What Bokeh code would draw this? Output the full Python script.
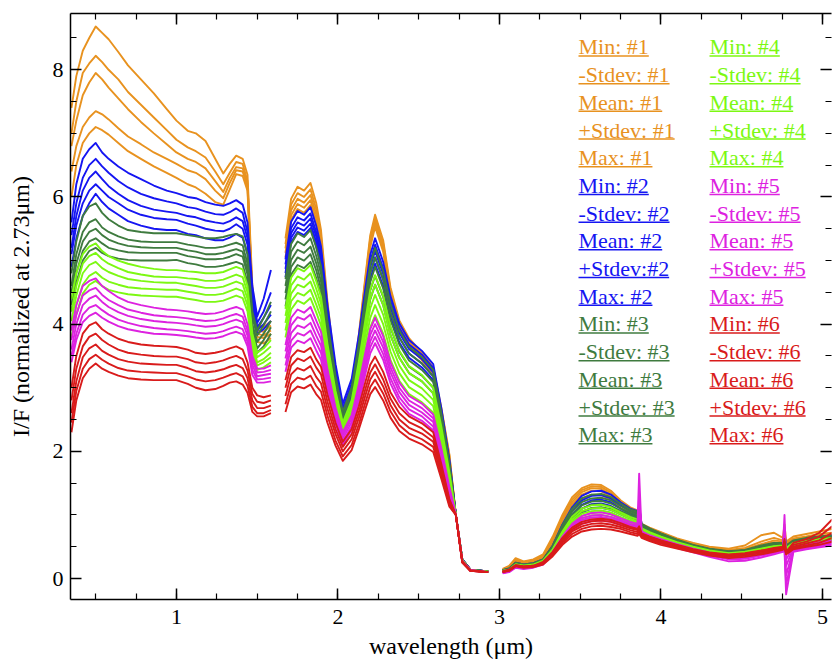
from bokeh.plotting import figure
from bokeh.models import Range1d, LinearAxis, SingleIntervalTicker, CustomLabelingPolicy
from bokeh.core.properties import value
from bokeh.embed import file_html
from bokeh.resources import INLINE

# ---------------- data ----------------
# wavelength grids (micron) for the three spectral segments
WA = [0.35, 0.38, 0.42, 0.46, 0.50, 0.54, 0.58, 0.64, 0.70, 0.78, 0.86, 0.94, 1.00,
      1.07, 1.12, 1.18, 1.24, 1.29, 1.33, 1.37, 1.41, 1.44, 1.47, 1.50, 1.54, 1.585]
WB = [1.675, 1.71, 1.75, 1.79, 1.83, 1.865, 1.895, 1.935, 1.985, 2.03, 2.085, 2.13, 2.17,
      2.20, 2.23, 2.28, 2.325, 2.38, 2.44, 2.52, 2.59, 2.64, 2.69, 2.73, 2.77, 2.82, 2.93]
WC = [3.02, 3.06, 3.10, 3.15, 3.21, 3.27, 3.33, 3.39, 3.45, 3.51, 3.57, 3.63, 3.69,
      3.75, 3.81, 3.855, 3.865, 3.88, 3.93, 4.0, 4.1, 4.2, 4.3, 4.42, 4.52, 4.62,
      4.70, 4.755, 4.765, 4.775, 4.82, 4.9, 4.98, 5.06]

SERIES = ["Min", "-Stdev", "Mean", "+Stdev", "Max"]
GROUP_COLORS = ["#E8921F", "#1515F2", "#3F7B3F", "#7CF812", "#DD22E0", "#D91B1B"]
LEGEND_TEXT = [
    ["Min: #1", "-Stdev: #1", "Mean: #1", "+Stdev: #1", "Max: #1"],
    ["Min: #2", "-Stdev: #2", "Mean: #2", "+Stdev:#2", "Max: #2"],
    ["Min: #3", "-Stdev: #3", "Mean: #3", "+Stdev: #3", "Max: #3"],
    ["Min: #4", "-Stdev: #4", "Mean: #4", "+Stdev: #4", "Max: #4"],
    ["Min: #5", "-Stdev: #5", "Mean: #5", "+Stdev: #5", "Max: #5"],
    ["Min: #6", "-Stdev: #6", "Mean: #6", "+Stdev: #6", "Max: #6"],
]

# ---- group 1 (orange) : Min, -Stdev, Mean, +Stdev, Max
G1_A = [
    [6.0, 6.5, 6.85, 7.0, 7.1, 7.05, 6.98, 6.85, 6.72, 6.6, 6.48, 6.38, 6.3, 6.2, 6.15, 6.05, 5.92, 5.88, 6.12, 6.36, 6.33, 6.1, 4.35, 3.72, 3.7, 3.78],
    [6.4, 6.8, 7.1, 7.25, 7.35, 7.3, 7.22, 7.08, 6.95, 6.83, 6.7, 6.6, 6.52, 6.42, 6.38, 6.28, 6.1, 5.98, 6.22, 6.42, 6.4, 6.15, 4.4, 3.8, 3.78, 3.85],
    [6.8, 7.2, 7.6, 7.8, 7.95, 7.85, 7.72, 7.55, 7.38, 7.18, 7.0, 6.83, 6.7, 6.6, 6.55, 6.45, 6.25, 6.08, 6.3, 6.47, 6.45, 6.2, 4.45, 3.85, 3.82, 3.9],
    [7.0, 7.5, 7.95, 8.1, 8.22, 8.12, 8.0, 7.85, 7.65, 7.45, 7.25, 7.05, 6.9, 6.78, 6.72, 6.62, 6.4, 6.2, 6.38, 6.55, 6.52, 6.25, 4.5, 3.9, 3.88, 3.98],
    [7.4, 7.9, 8.3, 8.5, 8.68, 8.58, 8.48, 8.28, 8.07, 7.85, 7.63, 7.38, 7.2, 7.04, 7.0, 6.88, 6.6, 6.37, 6.52, 6.65, 6.6, 6.35, 4.6, 3.98, 3.95, 4.05],
]
G1_B = [
    [5.05, 5.64, 5.81, 5.75, 5.87, 5.58, 5.17, 4.11, 3.05, 2.35, 2.83, 3.69, 4.58, 5.21, 5.53, 5.14, 4.42, 3.93, 3.65, 3.43, 3.21, 2.6, 1.86, 1.0, 0.28, 0.13, 0.1],
    [5.12, 5.71, 5.89, 5.83, 5.95, 5.65, 5.24, 4.18, 3.11, 2.40, 2.88, 3.74, 4.63, 5.26, 5.58, 5.19, 4.46, 3.96, 3.68, 3.46, 3.24, 2.62, 1.88, 1.0, 0.29, 0.14, 0.11],
    [5.19, 5.79, 5.97, 5.91, 6.03, 5.73, 5.31, 4.24, 3.16, 2.44, 2.92, 3.78, 4.67, 5.31, 5.63, 5.24, 4.5, 4.0, 3.72, 3.49, 3.27, 2.65, 1.9, 1.0, 0.29, 0.14, 0.11],
    [5.26, 5.88, 6.06, 6.0, 6.12, 5.81, 5.39, 4.3, 3.2, 2.47, 2.95, 3.81, 4.71, 5.35, 5.67, 5.27, 4.54, 4.03, 3.74, 3.52, 3.29, 2.66, 1.93, 1.0, 0.3, 0.14, 0.11],
    [5.35, 5.97, 6.16, 6.10, 6.22, 5.91, 5.48, 4.36, 3.24, 2.50, 2.98, 3.85, 4.75, 5.40, 5.72, 5.32, 4.58, 4.06, 3.78, 3.55, 3.32, 2.69, 1.95, 1.0, 0.3, 0.14, 0.11],
]
G1_C = [
    [0.13, 0.16, 0.27, 0.23, 0.26, 0.32, 0.54, 0.86, 1.1, 1.26, 1.32, 1.31, 1.24, 1.11, 1.03, 0.99, 1.0, 0.82, 0.76, 0.69, 0.59, 0.52, 0.46, 0.42, 0.44, 0.5, 0.55, 0.54, 0.62, 0.53, 0.58, 0.6, 0.63, 0.65],
    [0.13, 0.17, 0.28, 0.24, 0.27, 0.34, 0.57, 0.9, 1.16, 1.32, 1.38, 1.37, 1.29, 1.15, 1.06, 1.01, 1.02, 0.83, 0.77, 0.7, 0.6, 0.53, 0.47, 0.43, 0.45, 0.52, 0.57, 0.56, 0.66, 0.54, 0.6, 0.62, 0.65, 0.67],
    [0.14, 0.18, 0.29, 0.25, 0.28, 0.35, 0.6, 0.93, 1.2, 1.36, 1.42, 1.41, 1.32, 1.18, 1.08, 1.03, 1.0, 0.84, 0.78, 0.71, 0.61, 0.54, 0.48, 0.44, 0.46, 0.54, 0.6, 0.58, 0.7, 0.55, 0.61, 0.64, 0.67, 0.69],
    [0.14, 0.19, 0.3, 0.26, 0.29, 0.36, 0.62, 0.96, 1.24, 1.39, 1.45, 1.44, 1.35, 1.2, 1.1, 1.05, 0.98, 0.85, 0.79, 0.72, 0.62, 0.55, 0.49, 0.45, 0.48, 0.58, 0.64, 0.6, 0.75, 0.56, 0.63, 0.66, 0.7, 0.72],
    [0.15, 0.2, 0.32, 0.27, 0.3, 0.38, 0.66, 1.0, 1.28, 1.42, 1.48, 1.47, 1.38, 1.23, 1.12, 1.07, 0.95, 0.86, 0.8, 0.73, 0.63, 0.56, 0.5, 0.47, 0.52, 0.68, 0.72, 0.64, 0.85, 0.58, 0.66, 0.7, 0.74, 0.78],
]

# ---- group 2 (blue)
G2_A = [
    [4.9, 5.35, 5.7, 5.9, 6.05, 5.92, 5.82, 5.72, 5.62, 5.55, 5.5, 5.48, 5.48, 5.42, 5.4, 5.35, 5.32, 5.32, 5.36, 5.42, 5.36, 5.1, 4.2, 3.85, 3.92, 4.05],
    [5.1, 5.55, 5.9, 6.1, 6.2, 6.1, 6.0, 5.9, 5.8, 5.72, 5.67, 5.65, 5.64, 5.58, 5.55, 5.5, 5.47, 5.46, 5.5, 5.57, 5.5, 5.25, 4.3, 3.9, 4.0, 4.15],
    [5.2, 5.7, 6.1, 6.3, 6.4, 6.28, 6.17, 6.05, 5.95, 5.86, 5.8, 5.77, 5.75, 5.7, 5.68, 5.63, 5.6, 5.58, 5.62, 5.68, 5.62, 5.35, 4.4, 3.95, 4.1, 4.3],
    [5.4, 5.9, 6.3, 6.5, 6.6, 6.48, 6.38, 6.25, 6.15, 6.05, 5.98, 5.93, 5.9, 5.84, 5.82, 5.77, 5.73, 5.72, 5.76, 5.82, 5.75, 5.45, 4.5, 4.02, 4.2, 4.5],
    [5.6, 6.2, 6.6, 6.75, 6.85, 6.7, 6.6, 6.48, 6.38, 6.28, 6.18, 6.1, 6.06, 6.0, 5.98, 5.92, 5.88, 5.86, 5.9, 5.95, 5.88, 5.6, 4.6, 4.12, 4.4, 4.85],
]
G2_B = [
    [4.74, 5.29, 5.45, 5.4, 5.51, 5.23, 4.91, 4.02, 3.12, 2.52, 2.88, 3.54, 4.22, 4.71, 4.95, 4.6, 4.11, 3.71, 3.47, 3.32, 3.12, 2.48, 1.73, 1.0, 0.29, 0.13, 0.1],
    [4.8, 5.36, 5.52, 5.47, 5.58, 5.3, 4.98, 4.07, 3.17, 2.57, 2.94, 3.61, 4.31, 4.8, 5.05, 4.7, 4.19, 3.79, 3.54, 3.38, 3.18, 2.53, 1.77, 1.0, 0.29, 0.14, 0.11],
    [4.87, 5.43, 5.6, 5.55, 5.66, 5.38, 5.05, 4.14, 3.23, 2.62, 3.0, 3.68, 4.39, 4.9, 5.15, 4.79, 4.27, 3.86, 3.61, 3.45, 3.24, 2.58, 1.8, 1.0, 0.3, 0.14, 0.11],
    [4.94, 5.51, 5.68, 5.63, 5.74, 5.45, 5.13, 4.21, 3.29, 2.68, 3.07, 3.76, 4.48, 4.99, 5.25, 4.88, 4.36, 3.94, 3.68, 3.52, 3.31, 2.63, 1.84, 1.0, 0.3, 0.14, 0.11],
    [5.02, 5.61, 5.78, 5.72, 5.84, 5.55, 5.22, 4.30, 3.37, 2.75, 3.14, 3.84, 4.57, 5.09, 5.35, 4.98, 4.44, 4.01, 3.75, 3.58, 3.37, 2.68, 1.87, 1.0, 0.3, 0.14, 0.11],
]
G2_C = [
    [0.11, 0.14, 0.21, 0.19, 0.2, 0.26, 0.44, 0.68, 0.9, 1.04, 1.1, 1.11, 1.08, 1.01, 0.94, 0.91, 0.95, 0.77, 0.71, 0.64, 0.55, 0.48, 0.42, 0.38, 0.4, 0.45, 0.5, 0.51, 0.58, 0.46, 0.54, 0.57, 0.6, 0.62],
    [0.11, 0.14, 0.22, 0.2, 0.21, 0.27, 0.46, 0.72, 0.95, 1.1, 1.17, 1.18, 1.14, 1.06, 0.98, 0.95, 1.0, 0.79, 0.73, 0.66, 0.57, 0.49, 0.43, 0.39, 0.41, 0.46, 0.51, 0.52, 0.6, 0.47, 0.55, 0.58, 0.61, 0.63],
    [0.12, 0.15, 0.23, 0.21, 0.22, 0.28, 0.48, 0.76, 1.0, 1.16, 1.23, 1.24, 1.2, 1.1, 1.02, 0.98, 1.05, 0.81, 0.74, 0.67, 0.58, 0.5, 0.44, 0.4, 0.42, 0.47, 0.52, 0.53, 0.62, 0.48, 0.56, 0.59, 0.62, 0.64],
    [0.12, 0.15, 0.24, 0.21, 0.23, 0.29, 0.5, 0.8, 1.06, 1.23, 1.3, 1.31, 1.26, 1.15, 1.06, 1.02, 1.1, 0.83, 0.76, 0.68, 0.59, 0.51, 0.45, 0.41, 0.43, 0.48, 0.53, 0.54, 0.66, 0.49, 0.57, 0.6, 0.63, 0.66],
    [0.13, 0.16, 0.25, 0.22, 0.24, 0.3, 0.52, 0.85, 1.12, 1.3, 1.37, 1.38, 1.32, 1.2, 1.1, 1.06, 1.15, 0.85, 0.78, 0.7, 0.6, 0.52, 0.46, 0.42, 0.44, 0.5, 0.55, 0.55, 0.7, 0.5, 0.58, 0.62, 0.65, 0.68],
]

# ---- group 3 (dark green)
G3_A = [
    [4.2, 4.65, 5.0, 5.15, 5.2, 5.12, 5.07, 5.03, 5.01, 5.0, 5.0, 5.0, 5.01, 4.96, 4.94, 4.9, 4.9, 4.92, 4.95, 4.98, 4.94, 4.65, 3.85, 3.55, 3.65, 3.85],
    [4.3, 4.8, 5.15, 5.3, 5.35, 5.27, 5.2, 5.16, 5.13, 5.12, 5.12, 5.12, 5.12, 5.07, 5.05, 5.02, 5.02, 5.03, 5.06, 5.1, 5.06, 4.78, 3.95, 3.62, 3.75, 3.95],
    [4.5, 4.95, 5.3, 5.45, 5.5, 5.4, 5.33, 5.27, 5.23, 5.21, 5.2, 5.2, 5.2, 5.16, 5.14, 5.1, 5.1, 5.12, 5.15, 5.18, 5.14, 4.85, 4.0, 3.72, 3.85, 4.05],
    [4.6, 5.1, 5.45, 5.6, 5.65, 5.52, 5.45, 5.38, 5.33, 5.3, 5.29, 5.29, 5.29, 5.25, 5.23, 5.2, 5.2, 5.22, 5.25, 5.28, 5.24, 4.95, 4.1, 3.82, 3.98, 4.2],
    [4.8, 5.3, 5.7, 5.85, 5.9, 5.75, 5.65, 5.55, 5.48, 5.45, 5.43, 5.43, 5.43, 5.4, 5.38, 5.35, 5.35, 5.37, 5.4, 5.42, 5.38, 5.1, 4.2, 3.9, 4.1, 4.35],
]
G3_B = [
    [4.28, 4.78, 4.93, 4.88, 4.98, 4.73, 4.46, 3.67, 2.88, 2.36, 2.7, 3.31, 3.94, 4.39, 4.62, 4.3, 3.83, 3.47, 3.23, 3.1, 2.91, 2.31, 1.62, 1.0, 0.28, 0.13, 0.1],
    [4.39, 4.9, 5.05, 5.0, 5.1, 4.85, 4.56, 3.76, 2.96, 2.42, 2.77, 3.4, 4.06, 4.53, 4.76, 4.43, 3.95, 3.57, 3.33, 3.19, 3.0, 2.38, 1.67, 1.0, 0.28, 0.13, 0.1],
    [4.49, 5.01, 5.17, 5.12, 5.22, 4.96, 4.67, 3.85, 3.03, 2.48, 2.84, 3.5, 4.17, 4.66, 4.9, 4.56, 4.07, 3.68, 3.43, 3.28, 3.09, 2.45, 1.72, 1.0, 0.29, 0.13, 0.11],
    [4.6, 5.14, 5.3, 5.24, 5.35, 5.08, 4.79, 3.95, 3.11, 2.55, 2.93, 3.6, 4.3, 4.8, 5.05, 4.7, 4.19, 3.79, 3.54, 3.38, 3.18, 2.53, 1.77, 1.0, 0.29, 0.14, 0.11],
    [4.71, 5.26, 5.43, 5.37, 5.48, 5.21, 4.91, 4.05, 3.19, 2.62, 3.01, 3.70, 4.43, 4.94, 5.2, 4.84, 4.32, 3.9, 3.64, 3.48, 3.28, 2.6, 1.82, 1.0, 0.3, 0.14, 0.11],
]
G3_C = [
    [0.11, 0.14, 0.21, 0.19, 0.2, 0.26, 0.44, 0.7, 0.92, 1.05, 1.11, 1.12, 1.09, 1.02, 0.96, 0.93, 0.97, 0.78, 0.72, 0.65, 0.56, 0.49, 0.43, 0.39, 0.41, 0.47, 0.51, 0.52, 0.58, 0.48, 0.56, 0.58, 0.6, 0.61],
    [0.11, 0.14, 0.22, 0.2, 0.21, 0.27, 0.46, 0.74, 0.96, 1.1, 1.16, 1.17, 1.13, 1.06, 1.0, 0.96, 1.0, 0.8, 0.74, 0.67, 0.58, 0.5, 0.44, 0.4, 0.42, 0.48, 0.52, 0.53, 0.6, 0.49, 0.57, 0.6, 0.62, 0.63],
    [0.12, 0.15, 0.23, 0.21, 0.22, 0.28, 0.48, 0.77, 1.0, 1.15, 1.21, 1.22, 1.18, 1.1, 1.03, 0.99, 1.04, 0.82, 0.76, 0.69, 0.59, 0.51, 0.45, 0.41, 0.43, 0.49, 0.53, 0.54, 0.62, 0.5, 0.58, 0.61, 0.63, 0.65],
    [0.12, 0.15, 0.24, 0.21, 0.23, 0.29, 0.5, 0.8, 1.05, 1.2, 1.26, 1.27, 1.23, 1.14, 1.06, 1.02, 1.08, 0.84, 0.77, 0.7, 0.6, 0.52, 0.46, 0.42, 0.44, 0.5, 0.54, 0.55, 0.66, 0.51, 0.59, 0.62, 0.64, 0.66],
    [0.13, 0.16, 0.25, 0.22, 0.24, 0.3, 0.52, 0.84, 1.1, 1.26, 1.32, 1.33, 1.28, 1.18, 1.09, 1.05, 1.12, 0.86, 0.79, 0.71, 0.61, 0.53, 0.47, 0.43, 0.45, 0.52, 0.56, 0.56, 0.72, 0.52, 0.6, 0.64, 0.66, 0.68],
]

# ---- group 4 (lime)
G4_A = [
    [3.8, 4.15, 4.48, 4.62, 4.68, 4.6, 4.54, 4.5, 4.47, 4.45, 4.44, 4.43, 4.43, 4.4, 4.38, 4.35, 4.35, 4.37, 4.41, 4.45, 4.41, 4.2, 3.55, 3.28, 3.32, 3.4],
    [3.9, 4.3, 4.62, 4.76, 4.82, 4.73, 4.67, 4.62, 4.58, 4.56, 4.55, 4.54, 4.54, 4.51, 4.49, 4.46, 4.46, 4.48, 4.52, 4.56, 4.52, 4.3, 3.62, 3.35, 3.4, 3.48],
    [4.05, 4.45, 4.8, 4.93, 4.98, 4.88, 4.82, 4.76, 4.71, 4.68, 4.66, 4.65, 4.65, 4.62, 4.6, 4.57, 4.57, 4.59, 4.63, 4.67, 4.63, 4.4, 3.7, 3.4, 3.45, 3.55],
    [4.2, 4.6, 4.95, 5.07, 5.12, 5.02, 4.95, 4.88, 4.82, 4.78, 4.75, 4.74, 4.74, 4.72, 4.71, 4.68, 4.68, 4.7, 4.74, 4.78, 4.74, 4.5, 3.78, 3.48, 3.55, 3.65],
    [4.4, 4.8, 5.1, 5.22, 5.27, 5.15, 5.07, 5.0, 4.95, 4.9, 4.87, 4.85, 4.85, 4.83, 4.82, 4.8, 4.8, 4.82, 4.86, 4.9, 4.86, 4.6, 3.85, 3.55, 3.62, 3.75],
]
G4_B = [
    [3.79, 4.23, 4.37, 4.32, 4.41, 4.19, 3.98, 3.34, 2.7, 2.27, 2.55, 3.06, 3.58, 3.95, 4.14, 3.85, 3.44, 3.11, 2.9, 2.77, 2.61, 2.07, 1.45, 1.0, 0.27, 0.13, 0.1],
    [3.9, 4.36, 4.49, 4.45, 4.54, 4.31, 4.1, 3.43, 2.76, 2.32, 2.62, 3.15, 3.71, 4.1, 4.3, 4.0, 3.57, 3.23, 3.01, 2.88, 2.71, 2.15, 1.51, 1.0, 0.28, 0.13, 0.1],
    [4.02, 4.48, 4.62, 4.58, 4.67, 4.44, 4.21, 3.52, 2.83, 2.37, 2.68, 3.25, 3.83, 4.25, 4.46, 4.15, 3.7, 3.35, 3.12, 2.99, 2.81, 2.23, 1.56, 1.0, 0.28, 0.13, 0.1],
    [4.13, 4.61, 4.75, 4.7, 4.8, 4.56, 4.32, 3.61, 2.89, 2.41, 2.74, 3.34, 3.96, 4.4, 4.62, 4.3, 3.83, 3.47, 3.23, 3.1, 2.91, 2.31, 1.62, 1.0, 0.28, 0.13, 0.1],
    [4.24, 4.73, 4.88, 4.83, 4.93, 4.68, 4.43, 3.69, 2.95, 2.45, 2.8, 3.42, 4.07, 4.54, 4.77, 4.44, 3.96, 3.58, 3.34, 3.2, 3.0, 2.39, 1.67, 1.0, 0.29, 0.13, 0.11],
]
G4_C = [
    [0.1, 0.12, 0.2, 0.18, 0.2, 0.25, 0.42, 0.65, 0.84, 0.95, 0.99, 1.0, 0.97, 0.91, 0.85, 0.82, 0.86, 0.71, 0.66, 0.6, 0.52, 0.46, 0.4, 0.36, 0.38, 0.43, 0.47, 0.48, 0.52, 0.44, 0.52, 0.55, 0.58, 0.6],
    [0.11, 0.13, 0.21, 0.19, 0.2, 0.25, 0.43, 0.67, 0.87, 0.99, 1.03, 1.04, 1.01, 0.94, 0.88, 0.85, 0.89, 0.73, 0.68, 0.62, 0.54, 0.47, 0.41, 0.37, 0.39, 0.44, 0.48, 0.49, 0.54, 0.45, 0.53, 0.56, 0.59, 0.61],
    [0.11, 0.13, 0.21, 0.19, 0.21, 0.26, 0.44, 0.69, 0.9, 1.02, 1.06, 1.07, 1.04, 0.97, 0.91, 0.88, 0.92, 0.75, 0.7, 0.64, 0.55, 0.48, 0.42, 0.38, 0.4, 0.45, 0.49, 0.5, 0.56, 0.46, 0.54, 0.57, 0.6, 0.62],
    [0.12, 0.14, 0.22, 0.2, 0.21, 0.27, 0.45, 0.71, 0.93, 1.06, 1.1, 1.11, 1.08, 1.01, 0.94, 0.9, 0.95, 0.77, 0.71, 0.65, 0.56, 0.49, 0.43, 0.39, 0.41, 0.46, 0.5, 0.51, 0.58, 0.47, 0.55, 0.58, 0.61, 0.63],
    [0.12, 0.14, 0.22, 0.2, 0.22, 0.28, 0.46, 0.74, 0.97, 1.1, 1.15, 1.16, 1.12, 1.04, 0.97, 0.93, 0.98, 0.79, 0.73, 0.66, 0.57, 0.5, 0.44, 0.4, 0.42, 0.47, 0.51, 0.52, 0.6, 0.48, 0.56, 0.59, 0.62, 0.64],
]

# ---- group 5 (magenta)
G5_A = [
    [3.4, 3.75, 4.03, 4.13, 4.18, 4.1, 4.04, 3.97, 3.92, 3.88, 3.85, 3.84, 3.83, 3.81, 3.79, 3.77, 3.78, 3.81, 3.85, 3.88, 3.84, 3.65, 3.2, 3.08, 3.08, 3.1],
    [3.5, 3.85, 4.15, 4.26, 4.3, 4.22, 4.15, 4.07, 4.02, 3.97, 3.94, 3.92, 3.91, 3.89, 3.87, 3.85, 3.86, 3.89, 3.93, 3.96, 3.92, 3.72, 3.28, 3.13, 3.14, 3.16],
    [3.6, 4.0, 4.3, 4.4, 4.45, 4.35, 4.27, 4.19, 4.13, 4.08, 4.05, 4.03, 4.02, 4.0, 3.98, 3.96, 3.97, 4.0, 4.04, 4.07, 4.03, 3.82, 3.36, 3.18, 3.2, 3.22],
    [3.75, 4.15, 4.45, 4.53, 4.57, 4.46, 4.38, 4.3, 4.23, 4.18, 4.14, 4.12, 4.11, 4.09, 4.07, 4.05, 4.06, 4.09, 4.13, 4.16, 4.12, 3.9, 3.43, 3.24, 3.25, 3.28],
    [3.9, 4.3, 4.6, 4.68, 4.72, 4.6, 4.52, 4.42, 4.35, 4.3, 4.26, 4.23, 4.22, 4.2, 4.18, 4.16, 4.17, 4.2, 4.24, 4.27, 4.23, 4.0, 3.5, 3.3, 3.3, 3.35],
]
G5_B = [
    [3.25, 3.63, 3.74, 3.7, 3.78, 3.59, 3.44, 2.94, 2.44, 2.1, 2.34, 2.77, 3.22, 3.54, 3.7, 3.44, 3.07, 2.78, 2.59, 2.48, 2.33, 1.85, 1.3, 1.0, 0.26, 0.12, 0.1],
    [3.35, 3.74, 3.86, 3.82, 3.9, 3.71, 3.55, 3.03, 2.5, 2.15, 2.4, 2.84, 3.31, 3.64, 3.8, 3.53, 3.15, 2.85, 2.66, 2.55, 2.39, 1.9, 1.33, 1.0, 0.27, 0.13, 0.1],
    [3.46, 3.86, 3.98, 3.94, 4.02, 3.82, 3.66, 3.11, 2.56, 2.2, 2.46, 2.91, 3.39, 3.73, 3.9, 3.63, 3.24, 2.93, 2.73, 2.61, 2.46, 1.95, 1.37, 1.0, 0.27, 0.13, 0.1],
    [3.57, 3.98, 4.11, 4.07, 4.15, 3.94, 3.77, 3.2, 2.63, 2.25, 2.51, 2.99, 3.48, 3.83, 4.0, 3.72, 3.32, 3.0, 2.8, 2.68, 2.52, 2.0, 1.4, 1.0, 0.27, 0.13, 0.1],
    [3.67, 4.1, 4.23, 4.18, 4.27, 4.06, 3.88, 3.29, 2.69, 2.3, 2.57, 3.06, 3.56, 3.92, 4.1, 3.81, 3.4, 3.08, 2.87, 2.75, 2.58, 2.05, 1.44, 1.0, 0.28, 0.13, 0.1],
]
G5_C = [
    [0.08, 0.1, 0.17, 0.15, 0.17, 0.22, 0.38, 0.58, 0.75, 0.86, 0.9, 0.91, 0.89, 0.85, 0.8, 0.77, 0.85, 0.67, 0.62, 0.56, 0.48, 0.41, 0.34, 0.27, 0.28, 0.33, 0.38, 0.42, 0.45, -0.25, 0.42, 0.46, 0.49, 0.52],
    [0.09, 0.11, 0.18, 0.16, 0.18, 0.23, 0.39, 0.6, 0.78, 0.89, 0.93, 0.94, 0.92, 0.87, 0.82, 0.79, 0.95, 0.69, 0.64, 0.58, 0.5, 0.43, 0.36, 0.3, 0.31, 0.36, 0.4, 0.43, 0.5, -0.1, 0.44, 0.48, 0.51, 0.54],
    [0.09, 0.11, 0.18, 0.16, 0.18, 0.24, 0.4, 0.62, 0.81, 0.92, 0.96, 0.97, 0.94, 0.89, 0.84, 0.81, 1.1, 0.7, 0.65, 0.59, 0.51, 0.44, 0.38, 0.32, 0.33, 0.38, 0.42, 0.44, 0.6, 0.05, 0.46, 0.5, 0.53, 0.56],
    [0.1, 0.12, 0.19, 0.17, 0.19, 0.24, 0.41, 0.64, 0.83, 0.95, 0.99, 1.0, 0.97, 0.92, 0.86, 0.83, 1.3, 0.72, 0.66, 0.6, 0.52, 0.45, 0.39, 0.34, 0.35, 0.4, 0.44, 0.45, 0.8, 0.2, 0.48, 0.52, 0.55, 0.58],
    [0.1, 0.12, 0.19, 0.17, 0.19, 0.25, 0.42, 0.66, 0.86, 0.98, 1.03, 1.04, 1.01, 0.95, 0.89, 0.86, 1.65, 0.74, 0.68, 0.62, 0.54, 0.47, 0.41, 0.36, 0.37, 0.42, 0.46, 0.47, 1.0, 0.3, 0.5, 0.54, 0.57, 0.6],
]

# ---- group 6 (red)
G6_A = [
    [2.3, 2.8, 3.15, 3.3, 3.38, 3.3, 3.25, 3.19, 3.15, 3.13, 3.12, 3.12, 3.12, 3.06, 3.0, 2.96, 2.98, 3.03, 3.08, 3.1, 3.05, 2.92, 2.62, 2.55, 2.55, 2.6],
    [2.45, 2.95, 3.3, 3.45, 3.52, 3.44, 3.38, 3.31, 3.27, 3.25, 3.24, 3.23, 3.23, 3.18, 3.13, 3.1, 3.12, 3.16, 3.2, 3.23, 3.18, 3.03, 2.7, 2.6, 2.6, 2.65],
    [2.6, 3.1, 3.48, 3.62, 3.68, 3.58, 3.52, 3.45, 3.41, 3.38, 3.37, 3.36, 3.36, 3.31, 3.26, 3.24, 3.26, 3.29, 3.33, 3.36, 3.31, 3.15, 2.8, 2.68, 2.68, 2.72],
    [2.8, 3.3, 3.65, 3.8, 3.85, 3.75, 3.68, 3.6, 3.55, 3.52, 3.5, 3.49, 3.49, 3.45, 3.4, 3.38, 3.4, 3.43, 3.47, 3.5, 3.45, 3.27, 2.9, 2.78, 2.76, 2.8],
    [3.0, 3.5, 3.85, 3.98, 4.03, 3.92, 3.85, 3.77, 3.72, 3.68, 3.66, 3.65, 3.64, 3.6, 3.55, 3.53, 3.55, 3.58, 3.62, 3.65, 3.6, 3.4, 3.0, 2.88, 2.85, 2.88],
]
G6_B = [
    [2.62, 2.93, 3.02, 2.99, 3.05, 2.9, 2.81, 2.45, 2.09, 1.85, 2.02, 2.35, 2.67, 2.9, 3.01, 2.8, 2.53, 2.32, 2.2, 2.11, 1.99, 1.57, 1.13, 1.0, 0.25, 0.12, 0.1],
    [2.74, 3.06, 3.16, 3.13, 3.19, 3.03, 2.94, 2.56, 2.17, 1.92, 2.1, 2.43, 2.77, 3.01, 3.13, 2.91, 2.63, 2.41, 2.28, 2.19, 2.07, 1.63, 1.16, 1.0, 0.25, 0.12, 0.1],
    [2.87, 3.21, 3.31, 3.27, 3.34, 3.17, 3.07, 2.67, 2.27, 2.0, 2.19, 2.53, 2.88, 3.13, 3.25, 3.02, 2.73, 2.5, 2.37, 2.28, 2.15, 1.69, 1.19, 1.0, 0.26, 0.12, 0.1],
    [3.0, 3.35, 3.46, 3.42, 3.49, 3.32, 3.21, 2.78, 2.35, 2.07, 2.27, 2.62, 2.98, 3.24, 3.37, 3.13, 2.83, 2.6, 2.46, 2.36, 2.22, 1.74, 1.22, 1.0, 0.26, 0.12, 0.1],
    [3.12, 3.48, 3.59, 3.56, 3.63, 3.45, 3.33, 2.89, 2.45, 2.15, 2.35, 2.71, 3.09, 3.36, 3.49, 3.25, 2.93, 2.7, 2.55, 2.44, 2.3, 1.8, 1.25, 1.0, 0.27, 0.13, 0.1],
]
G6_C = [
    [0.1, 0.12, 0.19, 0.17, 0.18, 0.22, 0.35, 0.53, 0.66, 0.74, 0.77, 0.78, 0.77, 0.74, 0.7, 0.67, 0.7, 0.64, 0.59, 0.53, 0.47, 0.41, 0.36, 0.32, 0.34, 0.38, 0.42, 0.45, 0.5, 0.38, 0.46, 0.5, 0.53, 0.58],
    [0.1, 0.13, 0.2, 0.18, 0.19, 0.23, 0.37, 0.56, 0.7, 0.78, 0.82, 0.83, 0.81, 0.78, 0.73, 0.7, 0.73, 0.66, 0.61, 0.55, 0.49, 0.43, 0.38, 0.34, 0.36, 0.4, 0.44, 0.47, 0.52, 0.39, 0.48, 0.52, 0.56, 0.64],
    [0.1, 0.13, 0.2, 0.18, 0.19, 0.24, 0.39, 0.59, 0.74, 0.82, 0.86, 0.87, 0.85, 0.81, 0.76, 0.73, 0.76, 0.68, 0.63, 0.57, 0.5, 0.44, 0.39, 0.36, 0.38, 0.42, 0.46, 0.48, 0.55, 0.4, 0.5, 0.55, 0.6, 0.72],
    [0.11, 0.14, 0.21, 0.19, 0.2, 0.25, 0.41, 0.62, 0.77, 0.86, 0.9, 0.91, 0.89, 0.84, 0.79, 0.76, 0.79, 0.7, 0.65, 0.59, 0.52, 0.45, 0.4, 0.37, 0.39, 0.43, 0.47, 0.49, 0.58, 0.41, 0.53, 0.58, 0.66, 0.82],
    [0.11, 0.14, 0.21, 0.19, 0.2, 0.26, 0.42, 0.64, 0.8, 0.89, 0.93, 0.94, 0.92, 0.87, 0.81, 0.78, 0.82, 0.71, 0.66, 0.6, 0.53, 0.46, 0.41, 0.38, 0.4, 0.44, 0.48, 0.5, 0.62, 0.42, 0.56, 0.62, 0.72, 0.93],
]

GROUPS = [(G1_A, G1_B, G1_C), (G2_A, G2_B, G2_C), (G3_A, G3_B, G3_C),
          (G4_A, G4_B, G4_C), (G5_A, G5_B, G5_C), (G6_A, G6_B, G6_C)]

# ---------------- figure ----------------
X0, X1 = 0.344, 5.056
Y0, Y1 = -0.33, 8.885
FONT = "Liberation Serif"

p = figure(width=832, height=661, x_range=Range1d(X0, X1), y_range=Range1d(Y0, Y1),
           output_backend="svg", toolbar_location=None,
           min_border_left=70, min_border_right=1, min_border_top=13, min_border_bottom=61)
p.background_fill_color = "white"
p.border_fill_color = "white"
p.xgrid.visible = False
p.ygrid.visible = False
p.outline_line_color = None

for gi, (sa, sb, sc) in enumerate(GROUPS):
    xs, ys = [], []
    for k in range(5):
        for grid, seg in ((WA, sa[k]), (WB, sb[k]), (WC, sc[k])):
            if len(grid) != len(seg):
                raise ValueError(f"group {gi+1} curve {k} length {len(seg)} vs {len(grid)}")
            xs.append(grid)
            ys.append(seg)
    p.multi_line(xs=xs, ys=ys, line_color=GROUP_COLORS[gi], line_width=1.9, line_join="round")

NO_LABELS = "for (const i of indices) { indices.unset(i) }\nreturn indices"


def style_axis(ax, show_labels, show_line=True):
    ax.axis_line_color = "black" if show_line else None
    ax.axis_line_width = 1.5
    ax.major_tick_in = 11
    ax.major_tick_out = 0
    ax.minor_tick_in = 6
    ax.minor_tick_out = 0
    ax.major_tick_line_color = "black"
    ax.major_tick_line_width = 1.5
    ax.minor_tick_line_color = "black"
    ax.minor_tick_line_width = 1.2
    ax.major_label_text_font = FONT
    if show_labels:
        ax.major_label_text_font_size = "22px"
        ax.major_label_text_color = "black"
    else:
        ax.major_label_text_font_size = "0px"
        ax.major_label_standoff = 0
        ax.major_label_policy = CustomLabelingPolicy(code=NO_LABELS)


p.xaxis.ticker = SingleIntervalTicker(interval=1, num_minor_ticks=4)
p.yaxis.ticker = SingleIntervalTicker(interval=2, num_minor_ticks=4)
style_axis(p.xaxis[0], True)
style_axis(p.yaxis[0], True)
p.xaxis.major_label_standoff = 10
p.yaxis.major_label_standoff = 7
p.xaxis.axis_label = "wavelength (\u03bcm)"
p.yaxis.axis_label = "I/F (normalized at 2.73\u03bcm)"
for ax in (p.xaxis[0], p.yaxis[0]):
    ax.axis_label_text_font = FONT
    ax.axis_label_text_font_size = "24px"
    ax.axis_label_text_font_style = "normal"
    ax.axis_label_text_color = "black"
p.xaxis.axis_label_standoff = 6
p.yaxis.axis_label_standoff = 16

top_ax = LinearAxis(ticker=SingleIntervalTicker(interval=1, num_minor_ticks=4))
style_axis(top_ax, False)
p.add_layout(top_ax, "above")
right_ax = LinearAxis(ticker=SingleIntervalTicker(interval=2, num_minor_ticks=4))
style_axis(right_ax, False, show_line=False)
p.add_layout(right_ax, "right")

# ---------------- legend (text with underline) ----------------
CHAR_W = {"M": 0.889, "i": 0.278, "n": 0.5, ":": 0.278, " ": 0.25, "#": 0.5, "-": 0.333,
          "S": 0.556, "t": 0.278, "d": 0.5, "e": 0.444, "v": 0.5, "a": 0.444, "+": 0.564,
          "x": 0.5}
FS = 22
FRAME_W, FRAME_H = 761.0, 587.0


def dx(px):
    return px * (X1 - X0) / FRAME_W


def dy(py):
    return py * (Y1 - Y0) / FRAME_H


col_px = [578 - 70, 709 - 70]
lx, ly, lt, lc, ux0, ux1, uy = [], [], [], [], [], [], []
for gi in range(6):
    col = gi // 3
    for k in range(5):
        row = (gi % 3) * 5 + k
        txt = LEGEND_TEXT[gi][k]
        base = 53 - 13 + 27.75 * row      # baseline, px below frame top
        x = X0 + dx(col_px[col])
        w = sum(CHAR_W.get(c, 0.5) for c in txt) * FS
        lx.append(x)
        ly.append(Y1 - dy(base - 6.5))
        lt.append(txt)
        lc.append(GROUP_COLORS[gi])
        ux0.append(x)
        ux1.append(x + dx(w))
        uy.append(Y1 - dy(base + 2.5))

p.text(x=lx, y=ly, text=lt, text_color=lc, text_font=value(FONT),
       text_font_size=value(f"{FS}px"), text_baseline="middle", text_align="left")
p.segment(x0=ux0, y0=uy, x1=ux1, y1=uy, line_color=lc, line_width=1.5)

open("out.html", "w").write(file_html(p, INLINE))
